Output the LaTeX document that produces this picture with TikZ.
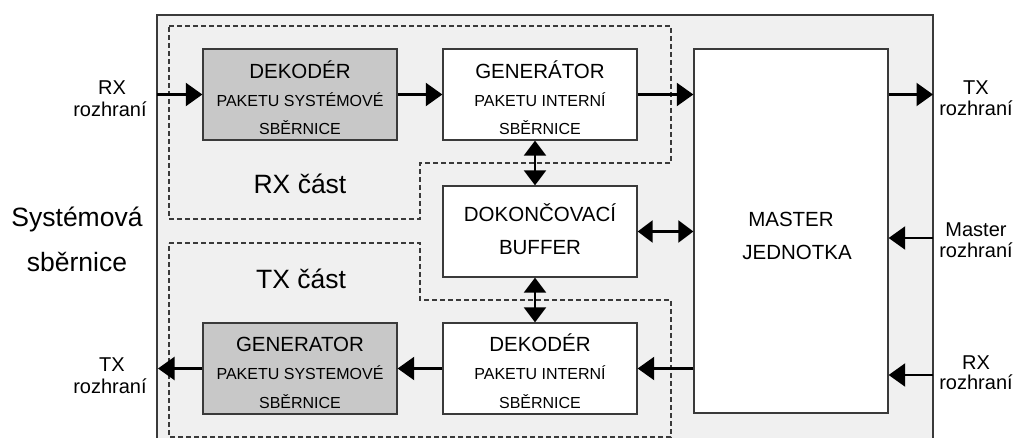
\documentclass[tikz,border=0pt]{standalone}
\usepackage{fontspec}
\setmainfont{Liberation Sans}
\usetikzlibrary{arrows.meta,calc}

\definecolor{panel}{HTML}{F0F0F0}
\definecolor{unitgray}{HTML}{C8C8C8}
\definecolor{edge}{HTML}{3A3A3A}

\tikzset{
  unit/.style={draw=edge, line width=1.3pt, fill=white, inner sep=0pt,
               minimum width=194pt, minimum height=91pt},
  grayunit/.style={unit, fill=unitgray},
  part/.style={draw=edge, line width=1.1pt, dash pattern=on 5pt off 3pt},
  flow/.style={line width=2.2pt, -{Triangle[length=16.5pt,width=23pt]}},
  both/.style={line width=2.2pt, {Triangle[length=15pt,width=22pt]}-{Triangle[length=15pt,width=22pt]}},
  title/.style={font=\fontsize{20.5}{24}\selectfont, anchor=base, inner sep=0pt},
  sub/.style={font=\fontsize{16}{19}\selectfont, anchor=base, inner sep=0pt},
  port/.style={font=\fontsize{20}{24}\selectfont, anchor=base, inner sep=0pt},
  zone/.style={font=\fontsize{26.5}{30}\selectfont, anchor=base, inner sep=0pt},
}

\begin{document}
\begin{tikzpicture}[x=1pt, y=-1pt]
\useasboundingbox (0,0) rectangle (1015,438);
\clip (0,0) rectangle (1015,438);

% system bus panel
\draw[fill=panel, draw=edge, line width=1.3pt] (157,15) rectangle (933,460);

% RX and TX parts
\draw[part] (169,26) -- (671,26) -- (671,163) -- (420,163) -- (420,219) -- (169,219) -- cycle;
\draw[part] (169,243) -- (420,243) -- (420,300) -- (671,300) -- (671,437) -- (169,437) -- cycle;

% functional units
\node[grayunit] (dekS) at (300,94.5) {};
\node[unit]     (genI) at (540,94.5) {};
\node[unit]     (buf)  at (540,231.5) {};
\node[grayunit] (genS) at (300,368.5) {};
\node[unit]     (dekI) at (540,368.5) {};
\node[unit, minimum height=364pt] (master) at (791,231) {};

% unit captions
\node[title] (dekS1) at (300,78.3) {DEKODÉR};
\node[sub]   (dekS2) at (300,106.7) {PAKETU SYSTÉMOVÉ};
\node[sub]   (dekS3) at (300,135) {SBĚRNICE};

\node[title] (genI1) at (540,78.3) {GENERÁTOR};
\node[sub]   (genI2) at (540,106.7) {PAKETU INTERNÍ};
\node[sub]   (genI3) at (540,135) {SBĚRNICE};

\node[title] (buf1) at (540,221.7) {DOKONČOVACÍ};
\node[title] (buf2) at (540,255) {BUFFER};

\node[title] (genS1) at (300,352) {GENERATOR};
\node[sub]   (genS2) at (300,380) {PAKETU SYSTEMOVÉ};
\node[sub]   (genS3) at (300,408) {SBĚRNICE};

\node[title] (dekI1) at (540,352) {DEKODÉR};
\node[sub]   (dekI2) at (540,380) {PAKETU INTERNÍ};
\node[sub]   (dekI3) at (540,408) {SBĚRNICE};

\node[title] (mst1) at (791,226.7) {MASTER};
\node[title] (mst2) at (797,260) {JEDNOTKA};

% part labels
\node[zone] (rxpart) at (300,193.3) {RX část};
\node[zone] (txpart) at (301,289) {TX část};
\node[zone] (sys1) at (77,226.7) {Systémová};
\node[zone] (sys2) at (77,271.7) {sběrnice};

% interface labels
\node[port] (lrx1) at (112,95) {RX};
\node[port] (lrx2) at (110,117) {rozhraní};
\node[port] (ltx1) at (112,371) {TX};
\node[port] (ltx2) at (110,393) {rozhraní};
\node[port] (rtx1) at (976,94.5) {TX};
\node[port] (rtx2) at (976,116) {rozhraní};
\node[port] (rms1) at (976,236.5) {Master};
\node[port] (rms2) at (976,258) {rozhraní};
\node[port] (rrx1) at (976,369.5) {RX};
\node[port] (rrx2) at (976,389) {rozhraní};

% panel border ports
\coordinate (inRX)  at (157,94.5);
\coordinate (outTX) at (158,368.5);
\coordinate (rTX)   at (933,94.5);
\coordinate (rMS)   at (933,238);
\coordinate (rRX)   at (933,375);

% data paths
\draw[flow] (inRX) -- (dekS.west);
\draw[flow] (dekS.east) -- (genI.west);
\draw[flow] (genI.east) -- (genI.east -| master.west);
\draw[flow] (master.east |- rTX) -- (rTX);
\draw[both] ([xshift=-5pt]genI.south) -- ([xshift=-5pt]buf.north);
\draw[both] (buf.east) -- (buf.east -| master.west);
\draw[both] ([xshift=-5pt]buf.south) -- ([xshift=-5pt]dekI.north);
\draw[flow] (rMS) -- (rMS -| master.east);
\draw[flow] (rRX) -- (rRX -| master.east);
\draw[flow] (dekI.east -| master.west) -- (dekI.east);
\draw[flow] (dekI.west) -- (genS.east);
\draw[flow] (genS.west) -- (outTX);
\end{tikzpicture}
\end{document}
